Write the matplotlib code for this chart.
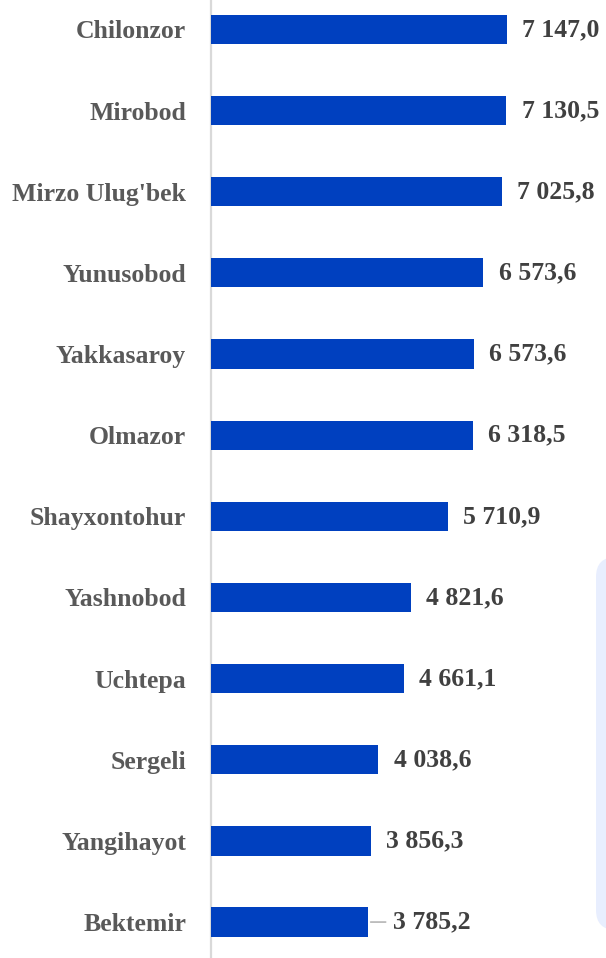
import matplotlib.pyplot as plt
from matplotlib.patches import FancyBboxPatch
from matplotlib.transforms import IdentityTransform

# districts, top to bottom
districts = ["Chilonzor", "Mirobod", "Mirzo Ulug'bek", "Yunusobod", "Yakkasaroy",
             "Olmazor", "Shayxontohur", "Yashnobod", "Uchtepa", "Sergeli",
             "Yangihayot", "Bektemir"]
# bar lengths as drawn in the picture
values = [7147.0, 7130.5, 7025.8, 6573.6, 6350.0, 6318.5, 5710.9, 4821.6,
          4661.1, 4038.6, 3856.3, 3785.2]
# printed labels
labels = ["7 147,0", "7 130,5", "7 025,8", "6 573,6", "6 573,6", "6 318,5",
          "5 710,9", "4 821,6", "4 661,1", "4 038,6", "3 856,3", "3 785,2"]

fig = plt.figure(figsize=(6.06, 9.58), dpi=100)
ax = fig.add_axes([211 / 606, 0, 1 - 211 / 606, 1])

ypos = list(range(len(districts)))
ax.barh(ypos, values, height=0.36, color="#0040BF", zorder=3)

ax.set_xlim(0, 9537)
ax.set_ylim(11.443, -0.363)
ax.set_yticks(ypos)
ax.set_yticklabels(districts, fontfamily="Liberation Serif", fontweight="bold",
                   fontsize=18.5, color="#595959")
ax.tick_params(axis="y", length=0, pad=18)
ax.set_xticks([])
for s in ["top", "right", "bottom"]:
    ax.spines[s].set_visible(False)
ax.spines["left"].set_color("#d9d9d9")
ax.spines["left"].set_linewidth(1.6)

for i, (v, lab) in enumerate(zip(values, labels)):
    if i == len(values) - 1:
        ax.annotate(lab, xy=(v, i), xytext=(18, 0), textcoords="offset points",
                    ha="left", va="center", fontfamily="Liberation Serif",
                    fontweight="bold", fontsize=18.5, color="#404040",
                    arrowprops=dict(arrowstyle="-", color="#a6a6a6", lw=1,
                                    shrinkA=3, shrinkB=2,
                                    relpos=(0, 0.5)))
    else:
        ax.annotate(lab, xy=(v, i), xytext=(11, 0), textcoords="offset points",
                    ha="left", va="center", fontfamily="Liberation Serif",
                    fontweight="bold", fontsize=18.5, color="#404040")

# light panel peeking in at the right edge
box = FancyBboxPatch((596, 28), 60, 373, boxstyle="round,pad=0,rounding_size=20",
                     facecolor="#E8EEFE", edgecolor="none",
                     transform=IdentityTransform())
fig.patches.append(box)

fig.savefig("out.png", dpi=100)
